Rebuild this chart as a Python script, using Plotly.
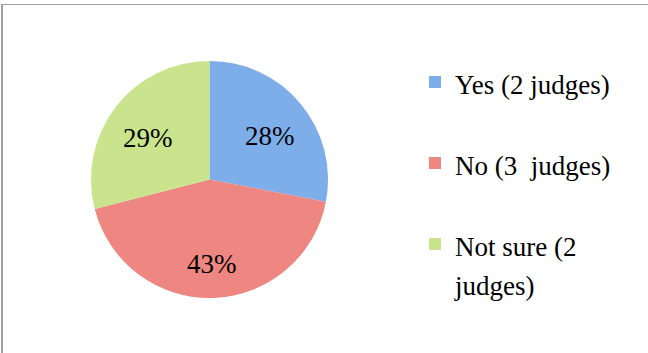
import math
import plotly.graph_objects as go

# Survey answers and their shares (percent)
answers = ["Yes (2 judges)", "No (3  judges)", "Not sure (2<br>judges)"]
shares = [28, 43, 29]
slice_colors = ["#7DAEEA", "#EE8681", "#C9E48D"]

W, H = 648, 353
TEXT_SIZE = 27
LEGEND_BASE = 30  # sets the legend line pitch (1.3 x this size)

# pie placement in pixels
PIE_LEFT, PIE_RIGHT, PIE_TOP, PIE_BOTTOM = 91, 328, 61, 298
LABEL_RADIUS = 0.66  # label distance from centre, as a fraction of the radius


def legend_label(text, pad_lines):
    parts = [f"<span style='font-size:{TEXT_SIZE}px'>{p}</span>" for p in text.split("<br>")]
    return "<br>".join(parts + [" "] * pad_lines)


legend_labels = [
    legend_label(answers[0], 1),
    legend_label(answers[1], 1),
    legend_label(answers[2], 0),
]

fig = go.Figure(
    go.Pie(
        labels=legend_labels,
        values=shares,
        sort=False,
        direction="clockwise",
        rotation=0,
        marker=dict(colors=slice_colors, line=dict(width=0)),
        textinfo="none",
        hoverinfo="label+percent",
        domain=dict(x=[PIE_LEFT / W, PIE_RIGHT / W], y=[1 - PIE_BOTTOM / H, 1 - PIE_TOP / H]),
    )
)

# percentage labels at each slice's mid-angle (clockwise from 12 o'clock)
cx = (PIE_LEFT + PIE_RIGHT) / 2
cy = (PIE_TOP + PIE_BOTTOM) / 2
radius = (PIE_RIGHT - PIE_LEFT) / 2
total = sum(shares)
start = 0.0
for share in shares:
    mid = (start + share / 2) / total * 2 * math.pi
    start += share
    px = cx + LABEL_RADIUS * radius * math.sin(mid)
    py = cy - LABEL_RADIUS * radius * math.cos(mid)
    fig.add_annotation(
        x=px / W, y=1 - py / H, xref="paper", yref="paper",
        text=f"{share}%", showarrow=False,
        xanchor="center", yanchor="middle", yshift=-6,
        font=dict(family="Liberation Serif", size=27, color="black"),
    )

# chart frame: left and top edges
fig.add_shape(type="line", xref="paper", yref="paper",
              x0=2 / W, x1=2 / W, y0=-0.05, y1=1 - 4.5 / H,
              line=dict(color="#A0A0A0", width=2))
fig.add_shape(type="line", xref="paper", yref="paper",
              x0=1 / W, x1=1.05, y0=1 - 4.5 / H, y1=1 - 4.5 / H,
              line=dict(color="#A0A0A0", width=1))

fig.update_layout(
    width=W,
    height=H,
    margin=dict(l=0, r=0, t=0, b=0),
    paper_bgcolor="white",
    plot_bgcolor="white",
    showlegend=True,
    legend=dict(
        x=415 / W,
        xanchor="left",
        y=1 - 56 / H,
        yanchor="top",
        valign="top",
        itemwidth=30,
        font=dict(family="Liberation Serif", size=LEGEND_BASE, color="black"),
        bgcolor="rgba(0,0,0,0)",
    ),
)

fig.write_html("out.html")
